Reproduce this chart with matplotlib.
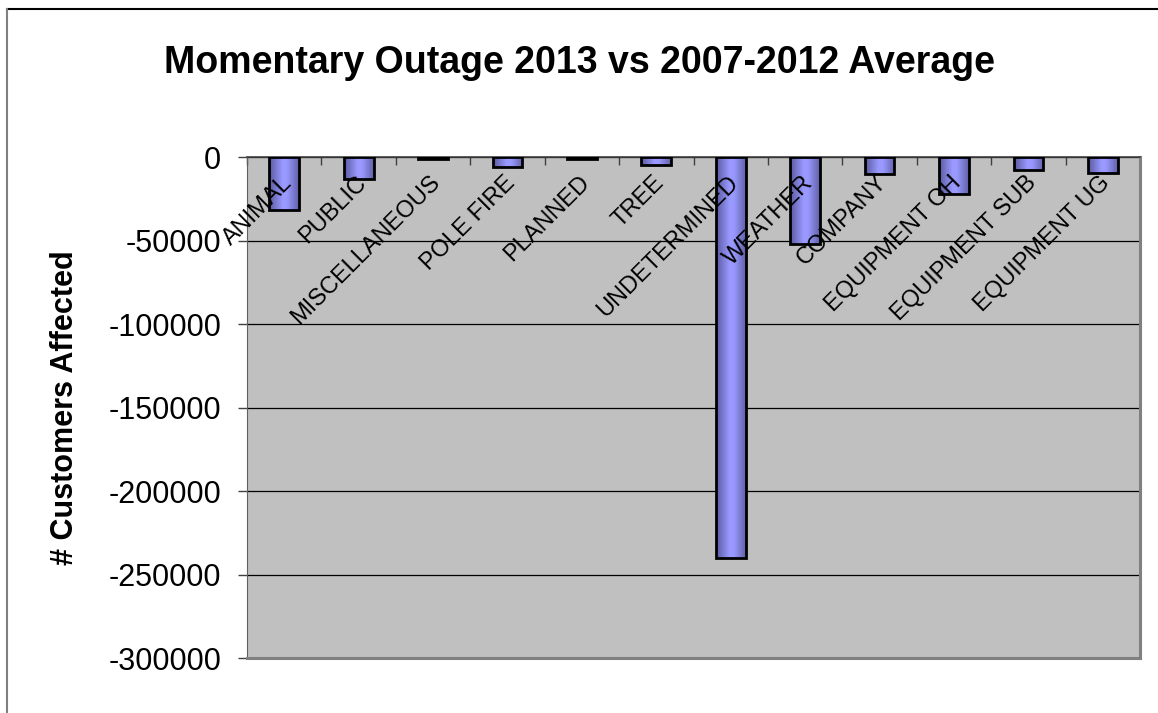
import matplotlib.pyplot as plt
import numpy as np
from matplotlib.colors import LinearSegmentedColormap
from matplotlib.lines import Line2D

plt.rcParams['font.family'] = ['Liberation Sans', 'DejaVu Sans']

categories = ['ANIMAL', 'PUBLIC', 'MISCELLANEOUS', 'POLE FIRE', 'PLANNED', 'TREE',
              'UNDETERMINED', 'WEATHER', 'COMPANY', 'EQUIPMENT OH', 'EQUIPMENT SUB',
              'EQUIPMENT UG']
diff_2013 = [-31700, -13200, -1000, -6200, -1000, -4800,
             -240000, -52000, -10400, -22200, -8000, -9800]
y_ticks = [0, -50000, -100000, -150000, -200000, -250000, -300000]

fig = plt.figure(figsize=(11.58, 7.13), dpi=100)
ax = fig.add_axes([0.2133, 0.0771, 0.7712, 0.7027])
ax.set_facecolor('#C0C0C0')

x = np.arange(len(categories))
bars = ax.bar(x, diff_2013, width=0.4, facecolor='none', edgecolor='black',
              linewidth=2, zorder=3)

# cylinder-ish shading on each bar
shade = LinearSegmentedColormap.from_list(
    'shade', [(0, '#5a5a9e'), (0.45, '#9999ff'), (0.6, '#9999ff'), (1, '#6262aa')])
grad = np.linspace(0, 1, 64).reshape(1, -1)
for rect in bars:
    x0, y0 = rect.get_x(), rect.get_y()
    w, h = rect.get_width(), rect.get_height()
    ax.imshow(grad, cmap=shade, extent=[x0, x0 + w, y0 + h, y0], aspect='auto',
              interpolation='bilinear', zorder=2.5)

ax.set_xlim(-0.5, len(categories) - 0.5)
ax.set_ylim(-300000, 0)

ax.set_yticks(y_ticks)
ax.set_yticklabels([str(v) for v in y_ticks], fontsize=22)
ax.tick_params(axis='y', direction='out', length=6.5, width=1, color='#404040', pad=12)
ax.yaxis.grid(True, color='black', linewidth=0.9)
ax.set_axisbelow(True)

# category ticks sit on the zero line, between categories
ax.set_xticks(np.arange(len(categories) + 1) - 0.5)
ax.tick_params(axis='x', which='both', bottom=False, top=True, direction='in',
               length=6, width=1, color='#404040', labelbottom=False, labeltop=False)

for xi, name in zip(x, categories):
    ax.annotate(name, xy=(xi, 0), xytext=(3, -16), textcoords='offset points',
                rotation=45, rotation_mode='anchor', ha='right', va='center',
                fontsize=17, zorder=4)

for side in ['right', 'bottom']:
    ax.spines[side].set_color('#808080')
    ax.spines[side].set_linewidth(2.2)
ax.spines['left'].set_color('#606060')
ax.spines['top'].set_color('#404040')
ax.spines['top'].set_linewidth(1.2)

ax.set_ylabel('# Customers Affected', fontsize=22, fontweight='bold')
ax.yaxis.set_label_coords(-0.187, 0.5)

fig.text(0.5, 1 - 73 / 713, 'Momentary Outage 2013 vs 2007-2012 Average',
         ha='center', va='baseline', fontsize=27, fontweight='bold')

# chart area border
fig.add_artist(Line2D([7 / 1158, 1], [1 - 9 / 713, 1 - 9 / 713], color='black', linewidth=1.5))
fig.add_artist(Line2D([7 / 1158, 7 / 1158], [0, 1 - 9 / 713], color='#808080', linewidth=1.5))

fig.savefig('out.png', dpi=100)
